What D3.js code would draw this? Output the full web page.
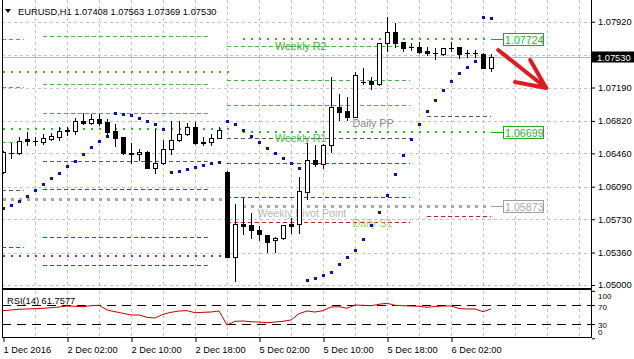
<!DOCTYPE html>
<html><head><meta charset="utf-8">
<script src="https://cdn.jsdelivr.net/npm/d3@7"></script>
<style>
body{margin:0;background:#fff;}
svg{display:block;font-family:"Liberation Sans",Arial,sans-serif;}
</style>
</head><body>
<svg id="c" width="634" height="359"></svg>
<script>
// ---------- DATA ----------
const symbol = "EURUSD,H1";
const open  = [1.06257,1.06461,1.06461,1.06619,1.06597,1.06589,1.06622,1.06645,1.06719,1.06710,
               1.06819,1.06793,1.06838,1.06804,1.06708,1.06638,1.06467,1.06449,1.06475,1.06301,
               1.06350,1.06505,1.06608,1.06671,1.06749,1.06578,1.06589,1.06634,1.06257,1.05314,
               1.05673,1.05665,1.05610,1.05555,1.05499,1.05518,1.05677,1.05673,1.06028,1.06386,
               1.06342,1.06553,1.06977,1.06930,1.06866,1.07255,1.07262,1.07226,1.07680,1.07802,
               1.07692,1.07636,1.07636,1.07595,1.07570,1.07558,1.07625,1.07636,1.07570,1.07568,
               1.07562,1.07408];
const high  = [1.06490,1.06571,1.06645,1.06693,1.06645,1.06671,1.06682,1.06756,1.06749,1.06849,
               1.06904,1.06896,1.06896,1.06841,1.06786,1.06645,1.06571,1.06505,1.06486,1.06727,
               1.06608,1.06822,1.06819,1.06800,1.06804,1.06638,1.06671,1.06756,1.06262,1.05895,
               1.05962,1.05802,1.05654,1.05555,1.05536,1.05670,1.05740,1.06194,1.06571,1.06553,
               1.06560,1.07303,1.07115,1.07088,1.07366,1.07403,1.07303,1.07685,1.07975,1.07909,
               1.07698,1.07680,1.07692,1.07643,1.07625,1.07632,1.07698,1.07643,1.07606,1.07606,
               1.07570,1.07563];
const low   = [1.06242,1.06405,1.06453,1.06553,1.06553,1.06564,1.06608,1.06608,1.06664,1.06671,
               1.06786,1.06786,1.06774,1.06664,1.06542,1.06453,1.06356,1.06386,1.06292,1.06245,
               1.06342,1.06453,1.06600,1.06660,1.06564,1.06553,1.06553,1.06627,1.05310,1.05048,
               1.05562,1.05518,1.05499,1.05369,1.05369,1.05510,1.05580,1.05580,1.05950,1.06320,
               1.06301,1.06472,1.06830,1.06830,1.06860,1.07226,1.07170,1.07220,1.07598,1.07643,
               1.07598,1.07606,1.07570,1.07551,1.07506,1.07551,1.07598,1.07514,1.07532,1.07532,
               1.07403,1.07369];
const close = [1.06478,1.06465,1.06600,1.06600,1.06600,1.06627,1.06652,1.06708,1.06708,1.06819,
               1.06793,1.06841,1.06800,1.06700,1.06634,1.06461,1.06449,1.06475,1.06301,1.06350,
               1.06505,1.06608,1.06675,1.06749,1.06578,1.06586,1.06634,1.06719,1.05314,1.05673,
               1.05658,1.05610,1.05562,1.05480,1.05525,1.05665,1.05654,1.06042,1.06386,1.06342,
               1.06553,1.06971,1.06922,1.06860,1.07329,1.07250,1.07226,1.07680,1.07802,1.07680,
               1.07625,1.07636,1.07587,1.07570,1.07568,1.07625,1.07627,1.07558,1.07568,1.07570,
               1.07410,1.07530];
// Parabolic SAR
const sar   = [1.05851,1.05887,1.05932,1.05987,1.06054,1.06117,1.06183,1.06245,1.06320,1.06375,
               1.06453,1.06527,1.06600,1.06652,1.06911,1.06896,1.06885,1.06852,1.06822,1.06786,
               1.06730,1.06257,1.06268,1.06286,1.06309,1.06331,1.06353,1.06367,1.06819,1.06786,
               1.06719,1.06652,1.06583,1.06519,1.06461,1.06405,1.06356,1.06298,1.05052,1.05074,
               1.05111,1.05147,1.05233,1.05314,1.05388,1.05510,1.05660,1.05806,1.05995,1.06231,
               1.06442,1.06622,1.06789,1.06930,1.07052,1.07163,1.07262,1.07354,1.07421,1.07484,
               1.07975,1.07964];
// RSI(14)
const rsi   = [58.1,59.6,61.1,61.7,62.3,63.2,64.4,65.9,68.0,67.4,
               66.5,68.6,69.5,59.6,56.0,52.6,49.1,49.1,44.2,42.7,
               50.5,54.7,57.5,58.1,53.9,54.7,55.4,57.5,28.0,35.8,
               36.4,34.9,34.3,32.8,34.3,35.8,38.5,51.8,57.5,55.4,
               58.1,65.9,66.5,63.2,70.1,69.5,68.6,71.6,73.7,69.5,
               68.6,68.0,67.4,65.3,66.9,68.0,68.0,62.7,61.7,61.7,
               56.0,61.7577];

// pivot levels: periods (bar index extents)
const periodFrom = [-1, 30, -1, 5, 28, 53];
const periodTo   = [29, 61, 2.6, 25.6, 50.9, 61];
const lvlPrice  = [1.07359,1.06730,1.05950,1.05322,
                   1.07724,1.06699,1.05873,
                   1.07728,1.07193,1.06583,1.06054,1.05425,
                   1.07765,1.07229,1.06904,1.06372,1.06061,1.05529,1.05218,
                   1.07654,1.07270,1.06996,1.06630,1.06353,1.05973,1.05699,
                   1.06874,1.05762];
const lvlType   = ["wR","wR","wPP","wS",
                   "wR","wR","wPP",
                   "dR","dR","dR","dPP","dS",
                   "dR","dR","dR","dPP","dS","dS","dS",
                   "dR","dR","dR","dPP","dS","dS","dS",
                   "dPP","dS"];
const lvlPeriod = [0,0,0,0, 1,1,1, 2,2,2,2,2, 3,3,3,3,3,3,3, 4,4,4,4,4,4,4, 5,5];
const labeledLevels = [4,5,6];
const noteText  = ["Weekly R2","Weekly R1","Weekly Pivot Point","Daily PP","Daily S1"];
const noteLevel = [4,5,6,26,27];
const noteBar   = [34,34,31.8,43.7,43.7];
const noteColor = ["#3aad3a","#45c045","#b8b8b8","#8a8a8a","#98d46c"];

// axes
const priceTicks = [1.05000,1.05360,1.05730,1.06090,1.06460,1.06820,1.07190,1.07550,1.07920];
const timeBars   = [0,8,16,24,32,40,48,56];
const timeLabels = ["1 Dec 2016","2 Dec 02:00","2 Dec 10:00","2 Dec 18:00","5 Dec 02:00","5 Dec 10:00","5 Dec 18:00","6 Dec 02:00"];
const rsiTicks   = [100,70,30,0];
const rsiLevels  = [70,30];
// annotation arrow (bar index, price)
const arrowBars   = [61.9,67.9,65.9,64.0];
const arrowPrices = [1.07606,1.07185,1.07495,1.07251];

// ---------- LAYOUT ----------
const L=2, R=591, PT=0, PB=288, RT=290, RB=338;
const x  = d3.scaleLinear().domain([0,73.5]).range([3,591]);
const y  = d3.scaleLinear().domain([1.05,1.0792]).range([285,21.7]);
const yr = d3.scaleLinear().domain([0,100]).range([338.3,290.8]);
const fmt = d3.format(".5f");
const svg = d3.select("#c");
const defs = svg.append("defs");
defs.append("clipPath").attr("id","cp").append("rect").attr("x",L+1).attr("y",PT).attr("width",R-L-1).attr("height",PB-PT);
defs.append("clipPath").attr("id","cr").append("rect").attr("x",L+1).attr("y",RT+1).attr("width",R-L-1).attr("height",RB-RT-1);

const lastClose = close[close.length-1];
const cy = Math.round(y(lastClose));

const gridC = "#c4c4c4";
// vertical grid (both panels)
const gridBars = d3.range(4, 74, 4);
svg.append("g").selectAll("line").data(gridBars).join("line")
  .attr("x1",d=>Math.round(x(d))+0.5).attr("x2",d=>Math.round(x(d))+0.5)
  .attr("y1",PT).attr("y2",PB).attr("stroke",gridC).attr("stroke-dasharray","3,3");
svg.append("g").selectAll("line").data(gridBars).join("line")
  .attr("x1",d=>Math.round(x(d))+0.5).attr("x2",d=>Math.round(x(d))+0.5)
  .attr("y1",RT+1).attr("y2",RB).attr("stroke",gridC).attr("stroke-dasharray","3,3");
// horizontal grid
svg.append("g").selectAll("line").data(priceTicks).join("line")
  .attr("x1",L).attr("x2",R).attr("y1",d=>Math.round(y(d))+0.5).attr("y2",d=>Math.round(y(d))+0.5)
  .attr("stroke",gridC).attr("stroke-dasharray","3,3");

const gp = svg.append("g").attr("clip-path","url(#cp)");

// current price line
gp.append("line").attr("x1",L).attr("x2",R).attr("y1",cy+0.5).attr("y2",cy+0.5).attr("stroke","#b8b8b8");

// pivot levels
const lvlStyle = {
  wR:{c:"#2fb52f",w:2,d:"2,6"},
  wPP:{c:"#a8a8a8",w:3,d:"3,5"},
  wS:{c:"#b52a2a",w:2,d:"2,6"},
  dR:{c:"#4cb04c",w:1,d:"4,3"},
  dPP:{c:"#5a5a5a",w:1,d:"4,3"},
  dS:{c:"#c0202a",w:1,d:"4,3"}
};
lvlPrice.forEach((p,i)=>{
  const s = lvlStyle[lvlType[i]];
  const yy = Math.round(y(p)) + (s.w%2 ? 0.5 : 0);
  gp.append("line").attr("x1",x(periodFrom[lvlPeriod[i]])).attr("x2",x(periodTo[lvlPeriod[i]]))
    .attr("y1",yy).attr("y2",yy).attr("stroke",s.c).attr("stroke-width",s.w).attr("stroke-dasharray",s.d);
});

// notes
noteText.forEach((t,i)=>{
  gp.append("text").attr("x",x(noteBar[i])).attr("y",y(lvlPrice[noteLevel[i]])+10.5)
    .attr("font-size","10.7px").attr("fill",noteColor[i]).text(t);
});

// candles
const gc = gp.append("g");
open.forEach((o,i)=>{
  const xi = Math.round(x(i));
  const yo=y(o), yc=y(close[i]), yh=y(high[i]), yl=y(low[i]);
  gc.append("line").attr("x1",xi+0.5).attr("x2",xi+0.5).attr("y1",Math.round(yh)).attr("y2",Math.round(yl)+1).attr("stroke","#000");
  const top=Math.round(Math.min(yo,yc)), bot=Math.round(Math.max(yo,yc));
  if (bot-top<1) {
    gc.append("line").attr("x1",xi-2).attr("x2",xi+3).attr("y1",top+0.5).attr("y2",top+0.5).attr("stroke","#000");
  } else if (close[i]>=o) {
    gc.append("rect").attr("x",xi-1.5).attr("y",top+0.5).attr("width",4).attr("height",bot-top)
      .attr("fill","#fff").attr("stroke","#000");
  } else {
    gc.append("rect").attr("x",xi-2).attr("y",top).attr("width",5).attr("height",bot-top+1).attr("fill","#000");
  }
});

// SAR dots
gp.append("g").selectAll("rect").data(sar).join("rect")
  .attr("x",(d,i)=>Math.round(x(i))-1).attr("y",d=>Math.round(y(d))-1)
  .attr("width",3).attr("height",3).attr("fill","#0a0ad2");

// weekly labels with connectors
labeledLevels.forEach(i=>{
  const isPP = lvlType[i]==="wPP";
  const col = isPP ? "#9e9e9e" : "#26a626";
  const tcol = isPP ? "#a8a8a8" : "#2fb02f";
  const yy = Math.round(y(lvlPrice[i]))+0.5;
  const x0 = x(periodTo[lvlPeriod[i]]), bx = x(62.5), bw = x(67.5)-x(62.5);
  svg.append("line").attr("x1",x0).attr("x2",bx).attr("y1",yy).attr("y2",yy).attr("stroke",col);
  svg.append("rect").attr("x",Math.round(bx)+0.5).attr("y",yy-6).attr("width",bw).attr("height",12)
    .attr("fill","#fff").attr("stroke",col);
  svg.append("text").attr("x",Math.round(bx)+2).attr("y",yy+4.5).attr("font-size","10.7px")
    .attr("fill",tcol).text(fmt(lvlPrice[i]));
});

// frames
svg.append("line").attr("x1",L+0.5).attr("x2",L+0.5).attr("y1",PT).attr("y2",RB).attr("stroke","#000");
svg.append("line").attr("x1",R+0.5).attr("x2",R+0.5).attr("y1",PT).attr("y2",RB).attr("stroke","#000");
svg.append("rect").attr("x",L).attr("y",PB).attr("width",R-L+1).attr("height",2).attr("fill","#000");
svg.append("line").attr("x1",L).attr("x2",R+1).attr("y1",RB-0.5).attr("y2",RB-0.5).attr("stroke","#000");

// price axis (labels hidden behind the current-price box are not shown)
const ax = svg.append("g").attr("transform",`translate(${R+1},0)`)
  .call(d3.axisRight(y).tickValues(priceTicks).tickFormat(fmt).tickSize(3).tickPadding(3));
ax.select(".domain").remove();
ax.selectAll("line").attr("stroke","#000");
ax.selectAll("text").attr("font-size","9.3px").attr("font-family","Liberation Sans, Arial, sans-serif").attr("fill","#000")
  .attr("display",d=>Math.abs(y(d)-cy)<9?"none":null);

// current price box
svg.append("rect").attr("x",R+1).attr("y",cy-5.5).attr("width",634-R-1).attr("height",11).attr("fill","#000");
svg.append("text").attr("x",R+6).attr("y",cy+3.5).attr("font-size","9.3px").attr("fill","#fff").text(fmt(lastClose));

// RSI panel
const grs = svg.append("g").attr("clip-path","url(#cr)");
grs.selectAll("line.lv").data(rsiLevels).join("line").attr("class","lv")
  .attr("x1",L).attr("x2",R).attr("y1",d=>Math.round(yr(d))+0.5).attr("y2",d=>Math.round(yr(d))+0.5)
  .attr("stroke","#000").attr("stroke-dasharray","9,6");
grs.append("path").datum(rsi).attr("fill","none").attr("stroke","#c80000").attr("stroke-width",1)
  .attr("d",d3.line().x((d,i)=>x(i)).y(d=>yr(d)));
svg.append("text").attr("x",7).attr("y",303.5).attr("font-size","9.3px").attr("fill","#000")
  .text(`RSI(14) ${rsi[rsi.length-1].toFixed(4)}`);
const rax = svg.append("g").attr("transform",`translate(${R+1},0)`)
  .call(d3.axisRight(yr).tickValues(rsiTicks).tickFormat(d3.format("d")).tickSize(3).tickPadding(3));
rax.select(".domain").remove();
rax.selectAll("line").attr("stroke","#000");
const rsiDy = {100:8.2, 70:4.0, 30:3.0, 0:-3.8};
rax.selectAll("text").attr("font-size","8px").attr("font-family","Liberation Sans, Arial, sans-serif").attr("fill","#000")
  .attr("dy",d=>rsiDy[d]+"px");

// time axis
const tax = svg.append("g").attr("transform",`translate(0,${RB})`)
  .call(d3.axisBottom(x).tickValues(timeBars).tickFormat((d,i)=>timeLabels[i]).tickSize(4).tickPadding(3));
tax.select(".domain").remove();
tax.selectAll("line").attr("stroke","#000").attr("transform","translate(0.5,0)");
tax.selectAll("text").attr("font-size","9.3px").attr("font-family","Liberation Sans, Arial, sans-serif")
  .attr("fill","#000").attr("text-anchor","start").attr("dy","0.9em");

// title
svg.append("path").attr("d","M5,9 L11,9 L8,13 Z").attr("fill","#000");
svg.append("text").attr("x",18).attr("y",14.5).attr("font-size","9.3px").attr("fill","#000")
  .text(`${symbol} ${fmt(open[61])} ${fmt(high[61])} ${fmt(low[61])} ${fmt(close[61])}`);

// red annotation arrow
const ap = arrowBars.map((b,i)=>[x(b), y(arrowPrices[i])]);
svg.append("path")
  .attr("d",`M${ap[0]}L${ap[1]}M${ap[2]}L${ap[1]}L${ap[3]}`)
  .attr("fill","none").attr("stroke","#e21a1f").attr("stroke-width",4)
  .attr("stroke-linecap","round").attr("stroke-linejoin","round");
</script>
</body></html>
